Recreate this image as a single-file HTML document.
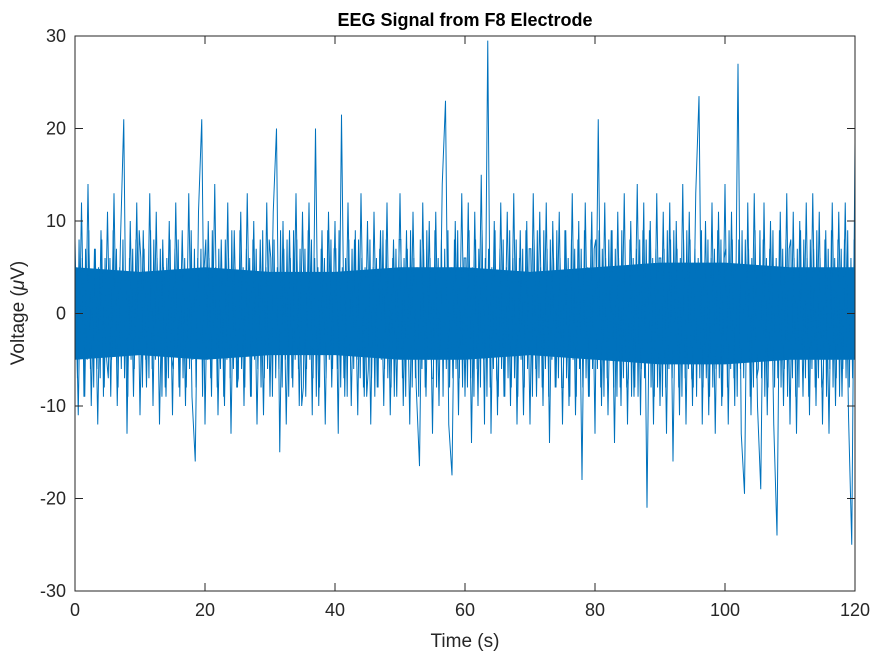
<!DOCTYPE html>
<html><head><meta charset="utf-8"><style>
body{margin:0;background:#fff;}
svg{display:block;font-family:"Liberation Sans",Arial,sans-serif;}
</style></head><body>
<svg id="chart" width="875" height="656" viewBox="0 0 875 656">
<rect x="0" y="0" width="875" height="656" fill="#fff"/>
<text x="465" y="26" text-anchor="middle" font-size="18" font-weight="bold" fill="#000">EEG Signal from F8 Electrode</text>
<g id="plot"></g>
<g id="axes"></g>
<text x="465" y="647" text-anchor="middle" font-size="19" fill="#262626">Time (s)</text>
<text transform="translate(24,313) rotate(-90)" text-anchor="middle" font-size="19" fill="#262626">Voltage (<tspan font-style="italic">μ</tspan>V)</text>
</svg>
<script>
const xTicks=[0,20,40,60,80,100,120];
const yTicks=[-30,-20,-10,0,10,20,30];
const sampleStep=0.5;
const voltage=[8,-11,12,-9,14,-10,7,-12,9,-8,11,-9,13,-10,8,21,-13,10,-9,12,
-11,9,-8,13,-10,11,-12,8,-9,10,-11,12,-8,9,-10,13,-9,-16,11,21,
-12,10,-9,14,-11,8,-10,12,-13,9,-8,11,-10,13,-9,10,-12,8,-11,12,
-9,11,20,-15,10,-12,9,-8,13,-10,11,-9,12,-11,20,-10,9,-12,11,-8,
10,-13,21.5,-9,12,-10,8,-11,13,-9,10,-12,11,-8,9,-10,12,-11,8,-9,
13,-10,9,-12,11,-8,-16.5,12,-9,10,-13,11,-10,14,23,-12,-17.5,10,-11,13,
-9,12,-14,11,-10,15,-12,29.5,-13,10,-11,12,-9,11,-10,13,-12,9,-11,10,
-12,13,-9,11,-10,12,-14,10,-8,11,-12,9,-10,13,-11,10,-18,12,-9,11,
-13,21,-10,12,-11,9,-14,11,-10,13,-12,10,-9,14,-11,12,-21,10,-12,13,
-10,11,-13,12,-16,10,-11,14,-12,11,-10,13,23.5,-12,10,-11,12,-13,11,-10,
14,-12,11,-10,27,-13,-19.5,12,-11,13,-10,-19,12,-11,10,-12,-24,11,-10,13,
-12,11,-13,10,-9,12,-11,13,-10,11,-12,9,-13,12,-10,11,-9,12,-11,-25,18.5];
const innerStep=0.25;
const voltageInner=[5,-7,8,-4,6,-9,7,-5,9,-6,4,-8,7,-6,5,-7,8,-9,6,-5,
-7,6,-5,9,-4,7,-8,5,-6,8,-7,4,-9,6,-5,7,-6,8,-4,9,
6,-8,7,-5,4,-7,9,-6,8,-5,6,-4,7,-9,5,-8,6,-7,8,-5,
-6,7,-4,8,-9,5,-7,6,-8,4,-6,9,-5,7,-8,6,-4,7,-9,5,
8,-5,6,-7,9,-4,5,-8,7,-6,4,-9,8,-5,6,-7,9,-6,5,-8,
-7,9,-6,5,-8,7,-4,6,-9,8,-5,7,-6,4,-8,9,-7,5,-6,8,
6,-9,8,-7,5,-6,9,-8,7,-5,8,-9,6,-7,9,-5,8,-6,7,-10,
-8,7,-6,9,-5,8,-7,6,-9,5,-8,7,-4,6,-7,9,-5,8,-6,7,
7,-6,9,-8,5,-7,6,-9,8,-4,7,-6,9,-5,8,-7,6,-8,5,-9,
-6,8,-7,5,-9,6,-8,7,-5,9,-6,8,-7,4,-8,6,-9,7,-5,8,
8,-7,6,-9,7,-5,9,-8,6,-7,5,-9,8,-6,7,-8,9,-5,6,-7,
-7,9,-8,6,-5,8,-9,7,-6,9,-8,5,-7,8,-6,9,-7,5,-8,6,
6,-8,9,-7,5,-9,8,-6,7,-8,9,-5,6,-9,7,-8,5,-6,9,-7,
-9,7,-6,8,-9,5,-7,9,-8,6,-7,8,-9,6,-5,7,-8,9,-6,7,
7,-9,8,-6,9,-7,5,-8,9,-6,7,-9,8,-5,6,-8,9,-7,6,-8,
-8,9,-7,6,-9,8,-5,7,-9,8,-6,7,-8,9,-7,5,-9,8,-6,7,
8,-6,9,-8,7,-9,6,-7,8,-5,9,-8,7,-9,6,-8,9,-7,5,-8,
-7,8,-9,6,-8,7,-9,8,-6,9,-7,8,-5,9,-8,6,-9,7,-8,6,
6,-9,7,-8,9,-6,8,-7,9,-5,7,-8,6,-9,8,-7,9,-6,8,-7,
-8,7,-9,6,-7,9,-8,5,-7,8,-9,6,-8,7,-6,9,-7,8,-9,6,
7,-8,9,-6,8,-7,5,-9,8,-6,9,-7,8,-5,7,-9,6,-8,9,-7,
-6,9,-7,8,-9,6,-8,7,-5,9,-8,6,-7,9,-8,7,-6,8,-9,7,
8,-7,6,-9,7,-8,9,-5,8,-7,6,-9,8,-6,7,-8,9,-7,6,-8,
-7,8,-9,7,-6,9,-8,6,-7,8,-9,7,-6,8,-7,9,-8,6,-7,8];
const bandTimes=[0,10,20,30,40,50,60,70,80,90,100,110,120];
const bandHi=[5,4.5,5,4.5,4.5,5,5,4.5,5,5.5,5.5,5,5];
const bandLo=[-5,-4.5,-5,-4.5,-4.5,-5,-5,-4.5,-5,-5.5,-5.5,-5,-5];
const X0=75,X1=855,Y0=591,Y1=36;
const xs=t=>X0+(t-0)/(120-0)*(X1-X0);
const ys=v=>Y0-(v-(-30))/(60)*(Y0-Y1);
const NS='http://www.w3.org/2000/svg';
const plot=document.getElementById('plot'),axes=document.getElementById('axes');
function mk(tag,attrs,parent){const e=document.createElementNS(NS,tag);for(const k in attrs)e.setAttribute(k,attrs[k]);parent.appendChild(e);return e;}
let bp='M'+bandTimes.map((t,i)=>xs(t)+','+ys(bandHi[i])).join(' L');
for(let i=bandTimes.length-1;i>=0;i--)bp+=' L'+xs(bandTimes[i])+','+ys(bandLo[i]);
const band=mk('path',{d:bp+'Z',fill:'#0072BD'},plot);


const ipts=voltageInner.map((v,i)=>xs(innerStep/2+i*innerStep)+','+ys(v)).join(' ');
const inner=mk('polyline',{points:ipts,fill:'none',stroke:'#0072BD','stroke-width':1},plot);


const pts=voltage.map((v,i)=>xs(i*sampleStep)+','+ys(v)).join(' ');
const line=mk('polyline',{points:pts,fill:'none',stroke:'#0072BD','stroke-width':1},plot);


const box=mk('rect',{x:X0,y:Y1,width:X1-X0,height:Y0-Y1,fill:'none',stroke:'#262626','stroke-width':1},axes);


xTicks.forEach(t=>{
  const x=xs(t);
  mk('line',{x1:x,y1:Y0,x2:x,y2:Y0-8,stroke:'#262626'},axes);
  mk('line',{x1:x,y1:Y1,x2:x,y2:Y1+8,stroke:'#262626'},axes);
  const tx=mk('text',{x:x,y:Y0+25,'text-anchor':'middle','font-size':18,fill:'#262626'},axes);
  tx.textContent=t;
  
  
});
yTicks.forEach(v=>{
  const y=ys(v);
  mk('line',{x1:X0,y1:y,x2:X0+8,y2:y,stroke:'#262626'},axes);
  mk('line',{x1:X1,y1:y,x2:X1-8,y2:y,stroke:'#262626'},axes);
  const tx=mk('text',{x:X0-9,y:y+6,'text-anchor':'end','font-size':18,fill:'#262626'},axes);
  tx.textContent=v;
  
  
});
</script>
</body></html>
